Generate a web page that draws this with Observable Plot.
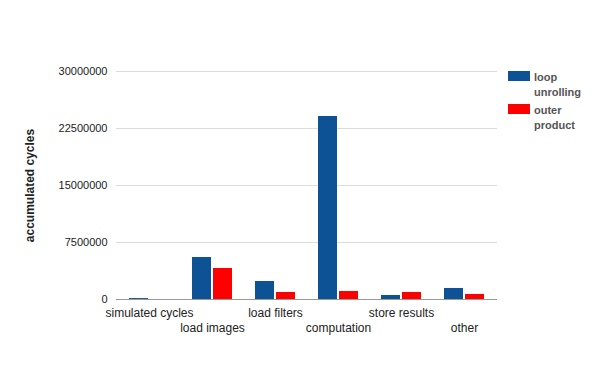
<!DOCTYPE html>
<html>
<head>
<meta charset="utf-8">
<script src="https://cdn.jsdelivr.net/npm/d3@7"></script>
<script src="https://cdn.jsdelivr.net/npm/@observablehq/plot@0.6"></script>
<style>
  body { margin: 0; background: #fff; font-family: "Liberation Sans", Arial, sans-serif; }
  #wrap { position: relative; width: 612px; height: 371px; }
  .legend { position: absolute; left: 508px; top: 70px; font-size: 11px; font-weight: bold; color: #555; line-height: 15px; }
  .item { position: relative; padding-left: 26px; margin-bottom: 3px; }
  .sw { position: absolute; left: 0; top: 1px; width: 22px; height: 10px; }
</style>
</head>
<body>
<div id="wrap"></div>
<script>
const categories = ["simulated cycles", "load images", "load filters", "computation", "store results", "other"];
const seriesNames = ["loop unrolling", "outer product"];
const loopUnrolling = [120000, 5530000, 2370000, 24080000, 530000, 1450000];
const outerProduct = [0, 4080000, 920000, 1050000, 920000, 660000];
const yTicks = [0, 7500000, 15000000, 22500000, 30000000];
const colors = ["#0d5295", "#ff0000"];

const rowsA = categories.map((c, i) => ({category: c, series: seriesNames[0], value: loopUnrolling[i]}));
const rowsB = categories.map((c, i) => ({category: c, series: seriesNames[1], value: outerProduct[i]}));

const chart = Plot.plot({
  width: 612,
  height: 371,
  marginLeft: 116,
  marginRight: 115,
  marginTop: 71,
  marginBottom: 72,
  style: {fontFamily: '"Liberation Sans", Arial, sans-serif', background: "#fff"},
  x: {domain: categories, paddingInner: 0.685, paddingOuter: 0.3425, axis: null},
  y: {domain: [0, 30000000], axis: null},
  color: {domain: seriesNames, range: colors},
  marks: [
    Plot.ruleY(yTicks.slice(1), {stroke: "#dcdcdc", strokeWidth: 1}),
    Plot.barY(rowsA, {x: "category", y: "value", fill: "series", dx: -10.5, insetLeft: 0.5, insetRight: 0.5}),
    Plot.barY(rowsB, {x: "category", y: "value", fill: "series", dx: 10.5, insetLeft: 0.5, insetRight: 0.5}),
    Plot.ruleY([0], {stroke: "#999", strokeWidth: 1}),
    Plot.axisY(yTicks, {tickSize: 0, tickPadding: 9, fontSize: 11, color: "#222", tickFormat: d => String(d), label: null}),
    Plot.axisX(categories.filter((d, i) => i % 2 === 0), {tickSize: 0, tickPadding: 9, fontSize: 12, color: "#222", label: null}),
    Plot.axisX(categories.filter((d, i) => i % 2 === 1), {tickSize: 0, tickPadding: 24, fontSize: 12, color: "#222", label: null}),
    Plot.text(["accumulated cycles"], {frameAnchor: "left", textAnchor: "middle", rotate: -90, dx: -86, fontSize: 12, fontWeight: "bold", fill: "#222"})
  ]
});

const wrap = document.getElementById("wrap");
wrap.appendChild(chart);

const legend = document.createElement("div");
legend.className = "legend";
legend.innerHTML = seriesNames.map((s, i) => {
  const [a, b] = s.split(" ");
  return `<div class="item"><span class="sw" style="background:${colors[i]}"></span>${a}<br>${b}</div>`;
}).join("");
wrap.appendChild(legend);
</script>
</body>
</html>
